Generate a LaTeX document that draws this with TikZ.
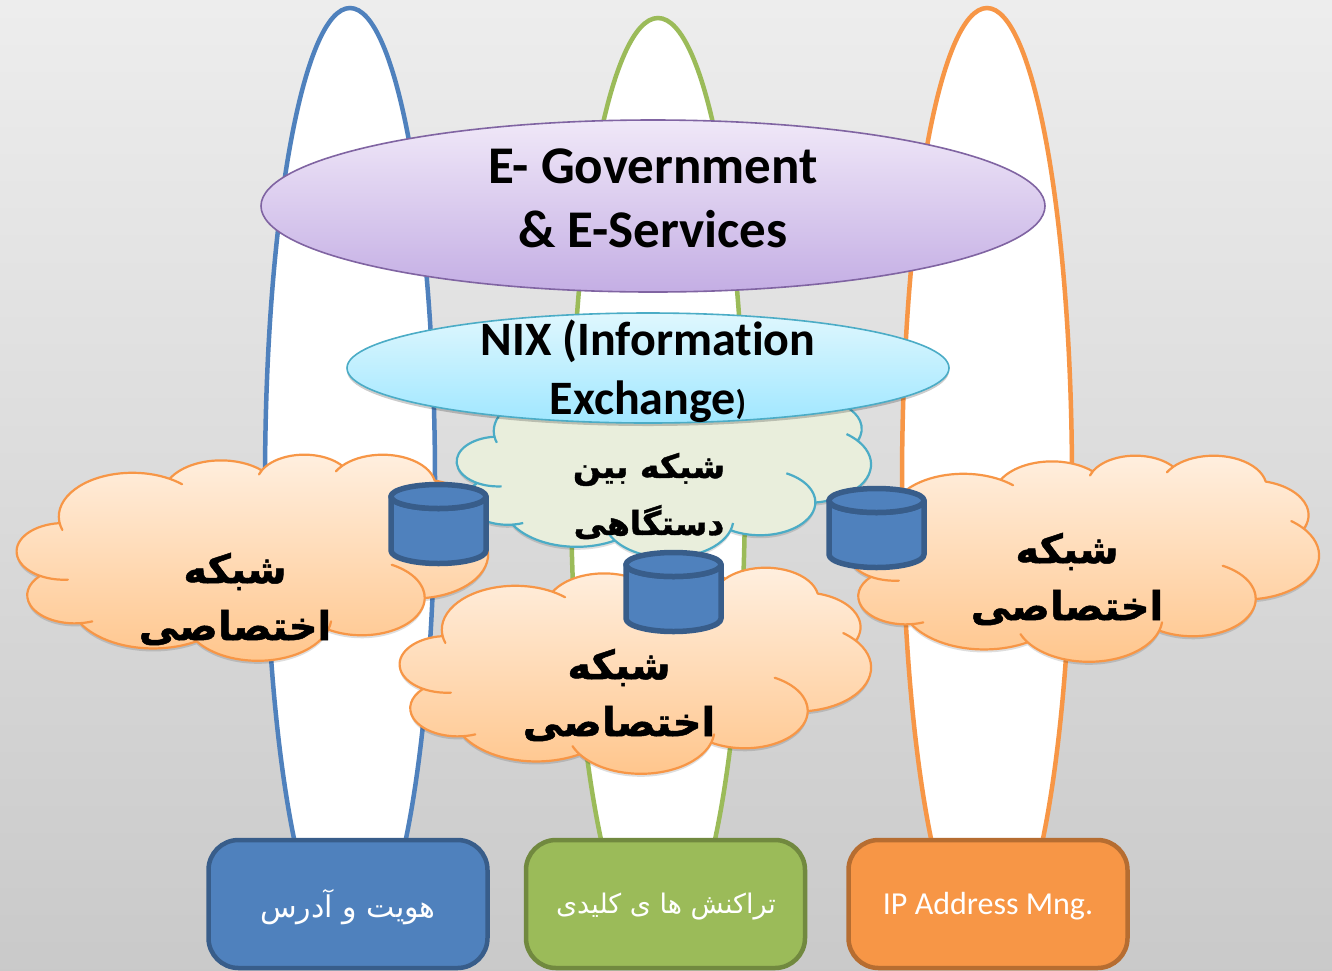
\documentclass[tikz,border=0pt]{standalone}
\usepackage{fontspec}
\usetikzlibrary{shapes.geometric, shadows}
\setmainfont[Ligatures=NoCommon]{Carlito}
\newfontfamily\arabicfont[Script=Arabic, BoldFeatures={FakeBold=1.2}]{DejaVu Sans}
\TeXXeTstate=1

\definecolor{blueline}{HTML}{4F81BD}
\definecolor{bluedark}{HTML}{385D8A}
\definecolor{greenline}{HTML}{9BBB59}
\definecolor{greendark}{HTML}{71893F}
\definecolor{orangeline}{HTML}{F79646}
\definecolor{orangedark}{HTML}{B66D31}
\definecolor{tealline}{HTML}{4BACC6}
\definecolor{violetline}{HTML}{8064A2}
\definecolor{tealfill}{HTML}{E9EEDC}
\definecolor{violettop}{HTML}{F0E8F8}
\definecolor{violetbottom}{HTML}{C4AEE4}
\definecolor{nixtop}{HTML}{DFF7FE}
\definecolor{nixbottom}{HTML}{A0E7FF}

\newcommand{\cloudlobe}[6]{
  arc[start angle=#3, delta angle=-#4, x radius=#1, y radius=#2]
  arc[start angle=#3-#4, delta angle=#4+#5+#6, x radius=#1, y radius=#2]
  arc[start angle=#3+#5+#6, delta angle=-#6, x radius=#1, y radius=#2]
}

\tikzset{
  netcloud/.pic={
    \path [pic actions] (39,143.7)
      \cloudlobe{67.53}{91.90}{-187.8}{10}{128.2}{12}
      \cloudlobe{53.33}{72.67}{-152.02}{0.1}{106.58}{0.1}
      \cloudlobe{43.65}{59.45}{-153.49}{9}{116.17}{0.1}
      \cloudlobe{48.57}{65.95}{-139.72}{12}{129.51}{0.1}
      \cloudlobe{53.33}{72.73}{-74.76}{0.1}{97.97}{0.1}
      \cloudlobe{67.75}{92.20}{-37.52}{14}{119.38}{0.1}
      \cloudlobe{57.85}{78.67}{0.46}{62}{121.53}{0.1}
      \cloudlobe{67.52}{92.15}{16.84}{11}{129.40}{12}
      \cloudlobe{77.20}{105.43}{58.97}{0.1}{91.22}{0.1}
      \cloudlobe{43.60}{59.18}{83.31}{15}{139.80}{0.1}
      \cloudlobe{43.45}{59.45}{120.33}{35}{143.79}{0.1}
      -- cycle;
  },
  drum/.pic={
    \path [pic actions] (0,12) arc[start angle=180, delta angle=-180, x radius=47.5, y radius=12]
      -- (95,66) arc[start angle=0, delta angle=180, x radius=47.5, y radius=13] -- cycle;
    \path [pic actions] (47.5,12) ellipse [x radius=47.5, y radius=12];
  },
  softshadow/.style={drop shadow={shadow xshift=0pt, shadow yshift=#1, opacity=.2, fill=black}},
  cloudshadow/.style={fill=black, opacity=.13},
  pillar/.style={ellipse, draw=#1, line width=4.5pt, fill=white, inner sep=0pt},
  servicebox/.style n args={2}{draw=#1, fill=#2, line width=4.5pt, rounded corners=30pt,
    minimum width=279pt, minimum height=128pt},
  orangecloud/.style={draw=orangeline, line width=2.2pt, line join=round, top color=orange!12!white, bottom color=orange!45!white},
  tealcloud/.style={draw=tealline, line width=2.2pt, fill=tealfill},
  drumstyle/.style={draw=bluedark, line width=5.5pt, line join=round, fill=blueline},
  cloudtext/.style={align=center, font=\arabicfont\bfseries\fontsize{40}{57}\selectfont},
  bigtext/.style={align=center, font=\bfseries\fontsize{53}{64}\selectfont},
  nixtext/.style={align=center, font=\bfseries\fontsize{48}{59}\selectfont}
}

\begin{document}
\begin{tikzpicture}[x=1pt, y=1pt, yscale=-1]

\fill [top color=black!7, bottom color=black!21] (0,0) rectangle (1332,970);
\useasboundingbox (0,0) rectangle (1332,970);

% tall ellipses behind everything
\node [pillar=blueline, minimum width=170pt, minimum height=948pt] (pillar-id) at (350,482) {};
\node [pillar=greenline, minimum width=174pt, minimum height=936pt] (pillar-tx) at (658,486) {};
\node [pillar=orangeline, minimum width=170pt, minimum height=948pt] (pillar-ip) at (987,482) {};

% boxes at the foot
\node [servicebox={bluedark}{blueline}] (box-id) at (348,904) {};
\node [servicebox={greendark}{greenline}] (box-tx) at (665.5,904) {};
\node [servicebox={orangedark}{orangeline}] (box-ip) at (988,904) {};
\node [text=white, font=\arabicfont\fontsize{30}{36}\selectfont] (label-id) at (348,907) {\beginR هویت و آدرس\endR};
\node [text=white, font=\arabicfont\fontsize{27}{36}\selectfont] (label-tx) at (666,907) {\beginR تراکنش ها ی کلیدی\endR};
\node [text=white, font=\fontsize{32}{36}\selectfont] (label-ip) at (988,906) {IP Address Mng.};

% the two layers on top
\node [ellipse, draw=violetline, line width=1.6pt, top color=violettop, bottom color=violetbottom,
  minimum width=784pt, minimum height=172pt, inner sep=0pt] (egov) at (653,206) {};
\node [bigtext] (egov-text) at (653,198) {E- Government\\\& E-Services};

\pic [cloudshadow, xscale=0.958, yscale=-0.419] (shadow-inter) at (457,379) {netcloud};
\pic [tealcloud, xscale=0.958, yscale=-0.419] (cloud-inter) at (457,376) {netcloud};

\node [ellipse, draw=tealline, line width=1.6pt, top color=nixtop, bottom color=nixbottom, softshadow=-3pt,
  minimum width=602pt, minimum height=110pt, inner sep=0pt] (nix) at (648,368) {};
\node [nixtext] (nix-text) at (648,371) {NIX (Information\\Exchange{\fontsize{34}{34}\selectfont)}};

% private networks
\foreach \n/\x/\y in {left/17/454, mid/400/567, right/848/455} {
  \pic [cloudshadow, xscale=1.09, yscale=-0.477] (shadow-\n) at (\x,\y+3) {netcloud};
  \pic [orangecloud, xscale=1.09, yscale=-0.477] (cloud-\n) at (\x,\y) {netcloud};
}

\foreach \n/\x/\y in {left/391/484.5, mid/626/552.5, right/829/488.5}
  \pic [drumstyle, yscale=-1] (drum-\n) at (\x,\y) {drum};

\node [cloudtext, font=\arabicfont\bfseries\fontsize{33}{57}\selectfont] (text-inter) at (649,496) {\beginR شبکه بین\endR\\\beginR دستگاهی\endR};
\node [cloudtext] (text-left) at (235,599) {\beginR شبکه\endR\\\beginR اختصاصی\endR};
\node [cloudtext] (text-mid) at (619,695) {\beginR شبکه\endR\\\beginR اختصاصی\endR};
\node [cloudtext] (text-right) at (1067,579) {\beginR شبکه\endR\\\beginR اختصاصی\endR};

\end{tikzpicture}
\end{document}
